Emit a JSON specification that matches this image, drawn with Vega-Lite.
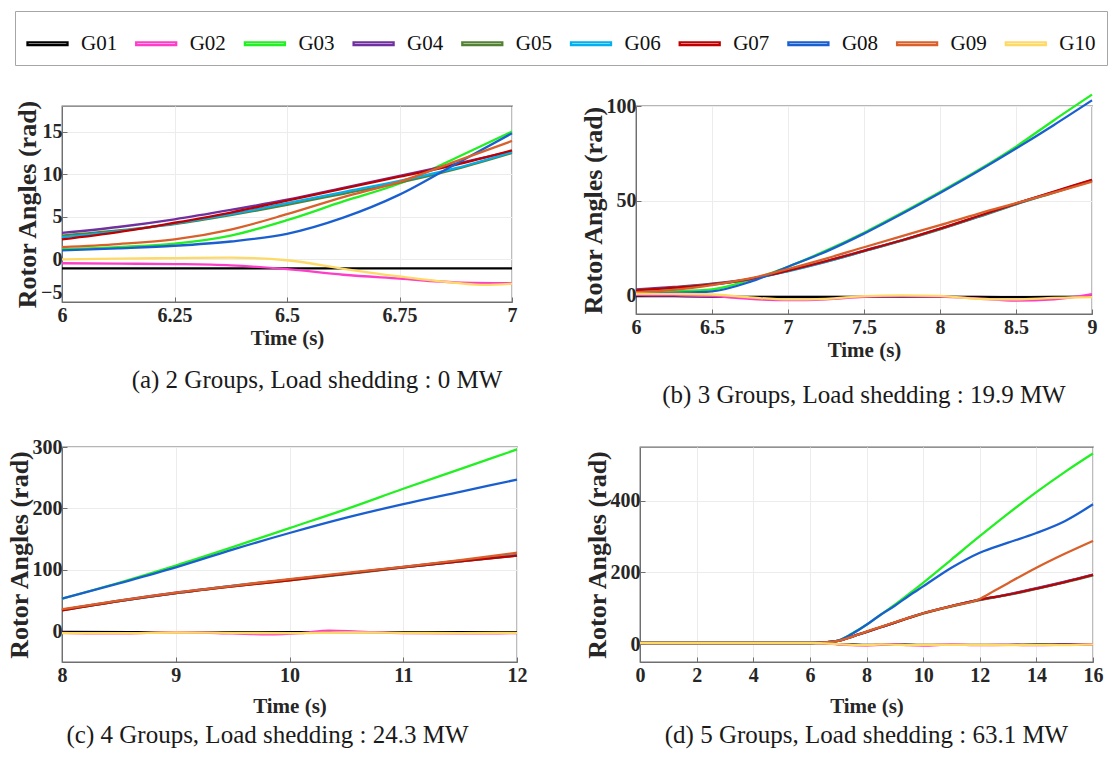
{
  "$schema": "https://vega.github.io/schema/vega-lite/v6.json",
  "padding": {"top": 10, "left": 5, "right": 3, "bottom": 5},
  "background": "white",
  "config": {
    "view": {"stroke": "#6f6f6f", "strokeWidth": 1.3},
    "axis": {
      "labelFont": "Liberation Serif", "labelFontWeight": "bold", "labelFontSize": 20, "labelColor": "#262626",
      "titleFont": "Liberation Serif", "titleFontWeight": "bold", "titleFontSize": 26, "titleColor": "#262626",
      "domainColor": "#6f6f6f", "tickColor": "#6f6f6f", "gridColor": "#ececec", "gridWidth": 1,
      "tickSize": -5, "labelPadding": 5, "labelFlush": false
    },
    "axisX": {"labelPadding": 8},
    "legend": {"labelFont": "Liberation Serif"},
    "title": {"font": "Liberation Serif", "fontSize": 25, "fontWeight": "normal", "color": "#1a1a1a", "orient": "bottom", "anchor": "middle", "offset": 10},
    "line": {"strokeWidth": 2.3, "interpolate": "monotone", "clip": true}
  },
  "datasets": {
    "a": [
      {"t":6,"v":-1.05,"g":"G01"},{"t":6.25,"v":-1.05,"g":"G01"},{"t":6.5,"v":-1.05,"g":"G01"},{"t":6.75,"v":-1.05,"g":"G01"},{"t":7,"v":-1.05,"g":"G01"},
      {"t":6,"v":-0.45,"g":"G02"},{"t":6.125,"v":-0.5,"g":"G02"},{"t":6.25,"v":-0.55,"g":"G02"},{"t":6.375,"v":-0.7,"g":"G02"},{"t":6.5,"v":-1.15,"g":"G02"},{"t":6.625,"v":-1.8,"g":"G02"},{"t":6.75,"v":-2.25,"g":"G02"},{"t":6.875,"v":-2.7,"g":"G02"},{"t":7,"v":-2.8,"g":"G02"},
      {"t":6,"v":1.2,"g":"G03"},{"t":6.125,"v":1.45,"g":"G03"},{"t":6.25,"v":1.85,"g":"G03"},{"t":6.375,"v":2.8,"g":"G03"},{"t":6.5,"v":4.6,"g":"G03"},{"t":6.625,"v":6.8,"g":"G03"},{"t":6.75,"v":8.9,"g":"G03"},{"t":6.875,"v":11.9,"g":"G03"},{"t":7,"v":15.0,"g":"G03"},
      {"t":6,"v":3.1,"g":"G04"},{"t":6.125,"v":3.8,"g":"G04"},{"t":6.25,"v":4.7,"g":"G04"},{"t":6.375,"v":5.8,"g":"G04"},{"t":6.5,"v":7.0,"g":"G04"},{"t":6.625,"v":8.4,"g":"G04"},{"t":6.75,"v":9.8,"g":"G04"},{"t":6.875,"v":11.2,"g":"G04"},{"t":7,"v":12.7,"g":"G04"},
      {"t":6,"v":2.8,"g":"G05"},{"t":6.125,"v":3.4,"g":"G05"},{"t":6.25,"v":4.15,"g":"G05"},{"t":6.375,"v":5.2,"g":"G05"},{"t":6.5,"v":6.4,"g":"G05"},{"t":6.625,"v":7.7,"g":"G05"},{"t":6.75,"v":9.0,"g":"G05"},{"t":6.875,"v":10.6,"g":"G05"},{"t":7,"v":12.5,"g":"G05"},
      {"t":6,"v":2.6,"g":"G06"},{"t":6.125,"v":3.3,"g":"G06"},{"t":6.25,"v":4.2,"g":"G06"},{"t":6.375,"v":5.3,"g":"G06"},{"t":6.5,"v":6.6,"g":"G06"},{"t":6.625,"v":7.9,"g":"G06"},{"t":6.75,"v":9.2,"g":"G06"},{"t":6.875,"v":10.7,"g":"G06"},{"t":7,"v":12.6,"g":"G06"},
      {"t":6,"v":2.35,"g":"G07"},{"t":6.125,"v":3.2,"g":"G07"},{"t":6.25,"v":4.3,"g":"G07"},{"t":6.375,"v":5.5,"g":"G07"},{"t":6.5,"v":6.9,"g":"G07"},{"t":6.625,"v":8.3,"g":"G07"},{"t":6.75,"v":9.7,"g":"G07"},{"t":6.875,"v":11.1,"g":"G07"},{"t":7,"v":12.8,"g":"G07"},
      {"t":6,"v":1.05,"g":"G08"},{"t":6.125,"v":1.3,"g":"G08"},{"t":6.25,"v":1.6,"g":"G08"},{"t":6.375,"v":2.1,"g":"G08"},{"t":6.5,"v":3.0,"g":"G08"},{"t":6.625,"v":4.9,"g":"G08"},{"t":6.75,"v":7.6,"g":"G08"},{"t":6.875,"v":11.2,"g":"G08"},{"t":7,"v":14.8,"g":"G08"},
      {"t":6,"v":1.45,"g":"G09"},{"t":6.125,"v":1.8,"g":"G09"},{"t":6.25,"v":2.35,"g":"G09"},{"t":6.375,"v":3.5,"g":"G09"},{"t":6.5,"v":5.3,"g":"G09"},{"t":6.625,"v":7.3,"g":"G09"},{"t":6.75,"v":9.1,"g":"G09"},{"t":6.875,"v":11.5,"g":"G09"},{"t":7,"v":13.9,"g":"G09"},
      {"t":6,"v":0.0,"g":"G10"},{"t":6.125,"v":0.1,"g":"G10"},{"t":6.25,"v":0.15,"g":"G10"},{"t":6.375,"v":0.2,"g":"G10"},{"t":6.5,"v":-0.1,"g":"G10"},{"t":6.625,"v":-1.1,"g":"G10"},{"t":6.75,"v":-2.0,"g":"G10"},{"t":6.875,"v":-2.75,"g":"G10"},{"t":6.94,"v":-3.0,"g":"G10"},{"t":7,"v":-2.85,"g":"G10"}
    ],
    "b": [
      {"t":6,"v":-0.5,"g":"G01"},{"t":6.25,"v":-0.6,"g":"G01"},{"t":6.5,"v":-0.8,"g":"G01"},{"t":6.75,"v":-1.0,"g":"G01"},{"t":7,"v":-1.0,"g":"G01"},{"t":7.25,"v":-1.0,"g":"G01"},{"t":7.5,"v":-0.9,"g":"G01"},{"t":7.75,"v":-0.8,"g":"G01"},{"t":8,"v":-0.8,"g":"G01"},{"t":8.25,"v":-1.0,"g":"G01"},{"t":8.5,"v":-1.1,"g":"G01"},{"t":8.75,"v":-1.0,"g":"G01"},{"t":9,"v":-0.8,"g":"G01"},
      {"t":6,"v":0.0,"g":"G02"},{"t":6.25,"v":-0.2,"g":"G02"},{"t":6.5,"v":-0.5,"g":"G02"},{"t":6.75,"v":-2.0,"g":"G02"},{"t":7,"v":-2.7,"g":"G02"},{"t":7.25,"v":-2.2,"g":"G02"},{"t":7.5,"v":-0.9,"g":"G02"},{"t":7.75,"v":-0.5,"g":"G02"},{"t":8,"v":-0.8,"g":"G02"},{"t":8.25,"v":-1.8,"g":"G02"},{"t":8.5,"v":-2.9,"g":"G02"},{"t":8.75,"v":-2.2,"g":"G02"},{"t":9,"v":0.5,"g":"G02"},
      {"t":6,"v":1.6,"g":"G03"},{"t":6.25,"v":2.0,"g":"G03"},{"t":6.5,"v":3.0,"g":"G03"},{"t":6.75,"v":8.0,"g":"G03"},{"t":7,"v":15.0,"g":"G03"},{"t":7.25,"v":23.5,"g":"G03"},{"t":7.5,"v":33.0,"g":"G03"},{"t":7.75,"v":43.5,"g":"G03"},{"t":8,"v":54.5,"g":"G03"},{"t":8.25,"v":66.0,"g":"G03"},{"t":8.5,"v":78.5,"g":"G03"},{"t":8.75,"v":92.5,"g":"G03"},{"t":9,"v":106.0,"g":"G03"},
      {"t":6,"v":3.0,"g":"G04"},{"t":6.25,"v":4.3,"g":"G04"},{"t":6.5,"v":6.0,"g":"G04"},{"t":6.75,"v":8.6,"g":"G04"},{"t":7,"v":13.0,"g":"G04"},{"t":7.25,"v":18.0,"g":"G04"},{"t":7.5,"v":23.5,"g":"G04"},{"t":7.75,"v":29.0,"g":"G04"},{"t":8,"v":35.0,"g":"G04"},{"t":8.25,"v":41.5,"g":"G04"},{"t":8.5,"v":48.3,"g":"G04"},{"t":8.75,"v":54.5,"g":"G04"},{"t":9,"v":60.8,"g":"G04"},
      {"t":6,"v":2.6,"g":"G05"},{"t":6.25,"v":4.0,"g":"G05"},{"t":6.5,"v":5.8,"g":"G05"},{"t":6.75,"v":8.5,"g":"G05"},{"t":7,"v":12.8,"g":"G05"},{"t":7.25,"v":17.7,"g":"G05"},{"t":7.5,"v":23.2,"g":"G05"},{"t":7.75,"v":28.8,"g":"G05"},{"t":8,"v":34.8,"g":"G05"},{"t":8.25,"v":41.3,"g":"G05"},{"t":8.5,"v":48.0,"g":"G05"},{"t":8.75,"v":54.2,"g":"G05"},{"t":9,"v":60.4,"g":"G05"},
      {"t":6,"v":2.2,"g":"G06"},{"t":6.25,"v":3.6,"g":"G06"},{"t":6.5,"v":5.5,"g":"G06"},{"t":6.75,"v":8.3,"g":"G06"},{"t":7,"v":12.6,"g":"G06"},{"t":7.25,"v":17.6,"g":"G06"},{"t":7.5,"v":23.2,"g":"G06"},{"t":7.75,"v":28.9,"g":"G06"},{"t":8,"v":35.0,"g":"G06"},{"t":8.25,"v":41.5,"g":"G06"},{"t":8.5,"v":48.2,"g":"G06"},{"t":8.75,"v":54.4,"g":"G06"},{"t":9,"v":60.6,"g":"G06"},
      {"t":6,"v":2.5,"g":"G07"},{"t":6.25,"v":3.9,"g":"G07"},{"t":6.5,"v":5.7,"g":"G07"},{"t":6.75,"v":8.5,"g":"G07"},{"t":7,"v":12.9,"g":"G07"},{"t":7.25,"v":17.9,"g":"G07"},{"t":7.5,"v":23.4,"g":"G07"},{"t":7.75,"v":29.0,"g":"G07"},{"t":8,"v":35.1,"g":"G07"},{"t":8.25,"v":41.7,"g":"G07"},{"t":8.5,"v":48.4,"g":"G07"},{"t":8.75,"v":54.7,"g":"G07"},{"t":9,"v":61.0,"g":"G07"},
      {"t":6,"v":0.9,"g":"G08"},{"t":6.25,"v":1.2,"g":"G08"},{"t":6.5,"v":2.0,"g":"G08"},{"t":6.75,"v":7.0,"g":"G08"},{"t":7,"v":15.0,"g":"G08"},{"t":7.25,"v":23.0,"g":"G08"},{"t":7.5,"v":32.5,"g":"G08"},{"t":7.75,"v":43.0,"g":"G08"},{"t":8,"v":54.0,"g":"G08"},{"t":8.25,"v":65.5,"g":"G08"},{"t":8.5,"v":77.5,"g":"G08"},{"t":8.75,"v":90.0,"g":"G08"},{"t":9,"v":103.0,"g":"G08"},
      {"t":6,"v":1.5,"g":"G09"},{"t":6.25,"v":2.8,"g":"G09"},{"t":6.5,"v":5.3,"g":"G09"},{"t":6.75,"v":8.8,"g":"G09"},{"t":7,"v":13.8,"g":"G09"},{"t":7.25,"v":19.3,"g":"G09"},{"t":7.5,"v":25.3,"g":"G09"},{"t":7.75,"v":31.2,"g":"G09"},{"t":8,"v":37.0,"g":"G09"},{"t":8.25,"v":43.0,"g":"G09"},{"t":8.5,"v":48.6,"g":"G09"},{"t":8.75,"v":54.2,"g":"G09"},{"t":9,"v":60.0,"g":"G09"},
      {"t":6,"v":0.7,"g":"G10"},{"t":6.25,"v":0.6,"g":"G10"},{"t":6.5,"v":0.3,"g":"G10"},{"t":6.75,"v":-1.2,"g":"G10"},{"t":7,"v":-2.3,"g":"G10"},{"t":7.25,"v":-2.0,"g":"G10"},{"t":7.5,"v":-0.5,"g":"G10"},{"t":7.75,"v":-0.1,"g":"G10"},{"t":8,"v":-0.4,"g":"G10"},{"t":8.25,"v":-2.0,"g":"G10"},{"t":8.5,"v":-2.3,"g":"G10"},{"t":8.75,"v":-1.5,"g":"G10"},{"t":9,"v":-1.1,"g":"G10"}
    ],
    "c": [
      {"t":8,"v":-1,"g":"G01"},{"t":9,"v":-1.5,"g":"G01"},{"t":10,"v":-1.5,"g":"G01"},{"t":11,"v":-1.5,"g":"G01"},{"t":12,"v":-1.5,"g":"G01"},
      {"t":8,"v":-2.5,"g":"G02"},{"t":8.5,"v":-3.5,"g":"G02"},{"t":9,"v":-1.5,"g":"G02"},{"t":9.5,"v":-3.5,"g":"G02"},{"t":9.8,"v":-5,"g":"G02"},{"t":10.1,"v":-3,"g":"G02"},{"t":10.35,"v":1,"g":"G02"},{"t":10.6,"v":-0.5,"g":"G02"},{"t":11,"v":-3,"g":"G02"},{"t":11.5,"v":-3.5,"g":"G02"},{"t":12,"v":-3,"g":"G02"},
      {"t":8,"v":53,"g":"G03"},{"t":8.5,"v":79,"g":"G03"},{"t":9,"v":107,"g":"G03"},{"t":9.5,"v":137,"g":"G03"},{"t":10,"v":168,"g":"G03"},{"t":10.5,"v":199,"g":"G03"},{"t":11,"v":232,"g":"G03"},{"t":11.5,"v":264,"g":"G03"},{"t":12,"v":296,"g":"G03"},
      {"t":8,"v":35,"g":"G04"},{"t":8.5,"v":50,"g":"G04"},{"t":9,"v":63,"g":"G04"},{"t":9.5,"v":74,"g":"G04"},{"t":10,"v":84,"g":"G04"},{"t":10.5,"v":94,"g":"G04"},{"t":11,"v":105,"g":"G04"},{"t":11.5,"v":115,"g":"G04"},{"t":12,"v":124,"g":"G04"},
      {"t":8,"v":34,"g":"G05"},{"t":8.5,"v":49,"g":"G05"},{"t":9,"v":62,"g":"G05"},{"t":9.5,"v":73,"g":"G05"},{"t":10,"v":83,"g":"G05"},{"t":10.5,"v":93,"g":"G05"},{"t":11,"v":104,"g":"G05"},{"t":11.5,"v":114,"g":"G05"},{"t":12,"v":123,"g":"G05"},
      {"t":8,"v":35,"g":"G06"},{"t":8.5,"v":49,"g":"G06"},{"t":9,"v":62,"g":"G06"},{"t":9.5,"v":74,"g":"G06"},{"t":10,"v":84,"g":"G06"},{"t":10.5,"v":94,"g":"G06"},{"t":11,"v":104,"g":"G06"},{"t":11.5,"v":114,"g":"G06"},{"t":12,"v":124,"g":"G06"},
      {"t":8,"v":34,"g":"G07"},{"t":8.5,"v":49,"g":"G07"},{"t":9,"v":62,"g":"G07"},{"t":9.5,"v":73,"g":"G07"},{"t":10,"v":83,"g":"G07"},{"t":10.5,"v":94,"g":"G07"},{"t":11,"v":104,"g":"G07"},{"t":11.5,"v":114,"g":"G07"},{"t":12,"v":123,"g":"G07"},
      {"t":8,"v":53,"g":"G08"},{"t":8.5,"v":78,"g":"G08"},{"t":9,"v":104,"g":"G08"},{"t":9.5,"v":133,"g":"G08"},{"t":10,"v":160,"g":"G08"},{"t":10.5,"v":185,"g":"G08"},{"t":11,"v":207,"g":"G08"},{"t":11.5,"v":227,"g":"G08"},{"t":12,"v":247,"g":"G08"},
      {"t":8,"v":36,"g":"G09"},{"t":8.5,"v":50,"g":"G09"},{"t":9,"v":63,"g":"G09"},{"t":9.5,"v":74,"g":"G09"},{"t":10,"v":85,"g":"G09"},{"t":10.5,"v":95,"g":"G09"},{"t":11,"v":105,"g":"G09"},{"t":11.5,"v":116,"g":"G09"},{"t":12,"v":128,"g":"G09"},
      {"t":8,"v":-3,"g":"G10"},{"t":8.5,"v":-3,"g":"G10"},{"t":9,"v":-2,"g":"G10"},{"t":9.5,"v":-2.5,"g":"G10"},{"t":10,"v":-3,"g":"G10"},{"t":10.5,"v":-2,"g":"G10"},{"t":11,"v":-2.5,"g":"G10"},{"t":11.5,"v":-3,"g":"G10"},{"t":12,"v":-2.5,"g":"G10"}
    ],
    "d": [
      {"t":0,"v":3,"g":"G01"},{"t":6,"v":3,"g":"G01"},{"t":6.5,"v":2,"g":"G01"},{"t":7,"v":0,"g":"G01"},{"t":7.5,"v":-1,"g":"G01"},{"t":8,"v":-2,"g":"G01"},{"t":9,"v":-1,"g":"G01"},{"t":10,"v":-2,"g":"G01"},{"t":11,"v":-2,"g":"G01"},{"t":12,"v":-2,"g":"G01"},{"t":13,"v":-2,"g":"G01"},{"t":14,"v":-1,"g":"G01"},{"t":15,"v":-1,"g":"G01"},{"t":16,"v":0,"g":"G01"},
      {"t":0,"v":3,"g":"G02"},{"t":6,"v":3,"g":"G02"},{"t":6.5,"v":2,"g":"G02"},{"t":7,"v":-1,"g":"G02"},{"t":7.5,"v":-3,"g":"G02"},{"t":8,"v":-4,"g":"G02"},{"t":8.5,"v":-2,"g":"G02"},{"t":9,"v":-1,"g":"G02"},{"t":9.5,"v":-3,"g":"G02"},{"t":10,"v":-4,"g":"G02"},{"t":11,"v":-1,"g":"G02"},{"t":12,"v":-3,"g":"G02"},{"t":13,"v":-2,"g":"G02"},{"t":14,"v":-3,"g":"G02"},{"t":15,"v":-2,"g":"G02"},{"t":16,"v":-1,"g":"G02"},
      {"t":0,"v":3,"g":"G03"},{"t":6,"v":3,"g":"G03"},{"t":6.5,"v":5,"g":"G03"},{"t":7,"v":10,"g":"G03"},{"t":7.5,"v":30,"g":"G03"},{"t":8,"v":54,"g":"G03"},{"t":8.5,"v":82,"g":"G03"},{"t":9,"v":110,"g":"G03"},{"t":9.5,"v":140,"g":"G03"},{"t":10,"v":171,"g":"G03"},{"t":11,"v":236,"g":"G03"},{"t":12,"v":301,"g":"G03"},{"t":13,"v":364,"g":"G03"},{"t":14,"v":424,"g":"G03"},{"t":15,"v":480,"g":"G03"},{"t":16,"v":532,"g":"G03"},
      {"t":0,"v":3,"g":"G04"},{"t":6,"v":3,"g":"G04"},{"t":6.5,"v":5,"g":"G04"},{"t":7,"v":9,"g":"G04"},{"t":7.5,"v":21,"g":"G04"},{"t":8,"v":34,"g":"G04"},{"t":8.5,"v":47,"g":"G04"},{"t":9,"v":60,"g":"G04"},{"t":9.5,"v":74,"g":"G04"},{"t":10,"v":86,"g":"G04"},{"t":11,"v":106,"g":"G04"},{"t":12,"v":124,"g":"G04"},{"t":12.5,"v":131,"g":"G04"},{"t":13,"v":139,"g":"G04"},{"t":14,"v":156,"g":"G04"},{"t":15,"v":174,"g":"G04"},{"t":16,"v":194,"g":"G04"},
      {"t":0,"v":3,"g":"G05"},{"t":6,"v":3,"g":"G05"},{"t":6.5,"v":5,"g":"G05"},{"t":7,"v":9,"g":"G05"},{"t":7.5,"v":21,"g":"G05"},{"t":8,"v":34,"g":"G05"},{"t":8.5,"v":47,"g":"G05"},{"t":9,"v":60,"g":"G05"},{"t":9.5,"v":73,"g":"G05"},{"t":10,"v":85,"g":"G05"},{"t":11,"v":105,"g":"G05"},{"t":12,"v":123,"g":"G05"},{"t":12.5,"v":130,"g":"G05"},{"t":13,"v":137,"g":"G05"},{"t":14,"v":154,"g":"G05"},{"t":15,"v":172,"g":"G05"},{"t":16,"v":192,"g":"G05"},
      {"t":0,"v":3,"g":"G06"},{"t":6,"v":3,"g":"G06"},{"t":6.5,"v":5,"g":"G06"},{"t":7,"v":9,"g":"G06"},{"t":7.5,"v":21,"g":"G06"},{"t":8,"v":34,"g":"G06"},{"t":8.5,"v":47,"g":"G06"},{"t":9,"v":60,"g":"G06"},{"t":9.5,"v":74,"g":"G06"},{"t":10,"v":86,"g":"G06"},{"t":11,"v":106,"g":"G06"},{"t":12,"v":124,"g":"G06"},{"t":12.5,"v":131,"g":"G06"},{"t":13,"v":138,"g":"G06"},{"t":14,"v":155,"g":"G06"},{"t":15,"v":173,"g":"G06"},{"t":16,"v":193,"g":"G06"},
      {"t":0,"v":3,"g":"G07"},{"t":6,"v":3,"g":"G07"},{"t":6.5,"v":5,"g":"G07"},{"t":7,"v":9,"g":"G07"},{"t":7.5,"v":21,"g":"G07"},{"t":8,"v":34,"g":"G07"},{"t":8.5,"v":47,"g":"G07"},{"t":9,"v":60,"g":"G07"},{"t":9.5,"v":73,"g":"G07"},{"t":10,"v":86,"g":"G07"},{"t":11,"v":106,"g":"G07"},{"t":12,"v":124,"g":"G07"},{"t":12.5,"v":131,"g":"G07"},{"t":13,"v":138,"g":"G07"},{"t":14,"v":155,"g":"G07"},{"t":15,"v":173,"g":"G07"},{"t":16,"v":193,"g":"G07"},
      {"t":0,"v":3,"g":"G08"},{"t":6,"v":3,"g":"G08"},{"t":6.5,"v":5,"g":"G08"},{"t":7,"v":10,"g":"G08"},{"t":7.5,"v":29,"g":"G08"},{"t":8,"v":54,"g":"G08"},{"t":8.5,"v":82,"g":"G08"},{"t":9,"v":107,"g":"G08"},{"t":9.5,"v":135,"g":"G08"},{"t":10,"v":161,"g":"G08"},{"t":11,"v":213,"g":"G08"},{"t":12,"v":255,"g":"G08"},{"t":13,"v":283,"g":"G08"},{"t":14,"v":310,"g":"G08"},{"t":15,"v":343,"g":"G08"},{"t":16,"v":390,"g":"G08"},
      {"t":0,"v":3,"g":"G09"},{"t":6,"v":3,"g":"G09"},{"t":6.5,"v":5,"g":"G09"},{"t":7,"v":9,"g":"G09"},{"t":7.5,"v":21,"g":"G09"},{"t":8,"v":35,"g":"G09"},{"t":8.5,"v":48,"g":"G09"},{"t":9,"v":61,"g":"G09"},{"t":9.5,"v":74,"g":"G09"},{"t":10,"v":86,"g":"G09"},{"t":11,"v":106,"g":"G09"},{"t":12,"v":126,"g":"G09"},{"t":12.5,"v":148,"g":"G09"},{"t":13,"v":170,"g":"G09"},{"t":14,"v":213,"g":"G09"},{"t":15,"v":252,"g":"G09"},{"t":16,"v":288,"g":"G09"},
      {"t":0,"v":3,"g":"G10"},{"t":6,"v":3,"g":"G10"},{"t":6.5,"v":2,"g":"G10"},{"t":7,"v":0,"g":"G10"},{"t":7.5,"v":-2,"g":"G10"},{"t":8,"v":-3,"g":"G10"},{"t":8.5,"v":-1,"g":"G10"},{"t":9,"v":-2,"g":"G10"},{"t":9.5,"v":-3,"g":"G10"},{"t":10,"v":-2,"g":"G10"},{"t":11,"v":-2,"g":"G10"},{"t":12,"v":-2,"g":"G10"},{"t":13,"v":-3,"g":"G10"},{"t":14,"v":-2,"g":"G10"},{"t":15,"v":-3,"g":"G10"},{"t":16,"v":-1,"g":"G10"}
    ]
  },
  "vconcat": [
    {
      "hconcat": [
        {
          "width": 450, "height": 196,
          "data": {"name": "a"},
          "title": {"text": "(a) 2 Groups, Load shedding : 0 MW", "offset": 20, "dx": 30},
          "mark": {"type": "line"},
          "encoding": {
            "x": {"field": "t", "type": "quantitative", "scale": {"domain": [6, 7], "nice": false}, "axis": {"title": "Time (s)", "values": [6, 6.25, 6.5, 6.75, 7], "format": ".3~g", "titleFontSize": 21, "titlePadding": 2}},
            "y": {"field": "v", "type": "quantitative", "scale": {"domain": [-5, 18], "nice": false, "zero": false}, "axis": {"title": "Rotor Angles (rad)", "values": [-5, 0, 5, 10, 15], "format": ".3~g", "titlePadding": 0, "labelFlush": true}},
            "color": {"field": "g", "type": "nominal",
              "scale": {"domain": ["G01","G02","G03","G04","G05","G06","G07","G08","G09","G10"], "range": ["#000000","#ff3ec8","#22f022","#7030a0","#548235","#00b0f0","#c00000","#1a5fd0","#d9602a","#ffd966"]},
              "legend": {"orient": "none", "legendX": -47, "legendY": -95, "direction": "horizontal", "title": null, "symbolType": "M-1,-0.07H1V0.07H-1Z", "symbolSize": 1600, "labelFont": "Liberation Serif", "labelFontSize": 21, "labelColor": "#111", "labelOffset": 12, "columnPadding": 12.7, "padding": 11, "strokeColor": "#a6a6a6", "fillColor": "white"}}
          }
        },
        {
          "width": 456, "height": 208,
          "data": {"name": "b"},
          "title": {"text": "(b) 3 Groups, Load shedding : 19.9 MW", "offset": 23},
          "mark": {"type": "line"},
          "encoding": {
            "x": {"field": "t", "type": "quantitative", "scale": {"domain": [6, 9], "nice": false}, "axis": {"title": "Time (s)", "values": [6, 6.5, 7, 7.5, 8, 8.5, 9], "format": ".3~g", "titleFontSize": 21, "titlePadding": 2}},
            "y": {"field": "v", "type": "quantitative", "scale": {"domain": [-10, 100], "nice": false, "zero": false}, "axis": {"title": "Rotor Angles (rad)", "values": [0, 50, 100], "format": ".3~g", "titlePadding": 0}},
            "color": {"field": "g", "type": "nominal"}
          }
        }
      ],
      "spacing": 61
    },
    {
      "hconcat": [
        {
          "width": 455, "height": 215,
          "data": {"name": "c"},
          "title": {"text": "(c) 4 Groups, Load shedding : 24.3 MW", "dx": -22, "offset": 7},
          "mark": {"type": "line"},
          "encoding": {
            "x": {"field": "t", "type": "quantitative", "scale": {"domain": [8, 12], "nice": false}, "axis": {"title": "Time (s)", "values": [8, 9, 10, 11, 12], "format": ".3~g", "titleFontSize": 21, "titlePadding": 10}},
            "y": {"field": "v", "type": "quantitative", "scale": {"domain": [-50, 300], "nice": false, "zero": false}, "axis": {"title": "Rotor Angles (rad)", "values": [0, 100, 200, 300], "format": ".3~g", "titlePadding": 0}},
            "color": {"field": "g", "type": "nominal"}
          }
        },
        {
          "width": 453, "height": 215,
          "data": {"name": "d"},
          "title": {"text": "(d) 5 Groups, Load shedding : 63.1 MW", "offset": 7},
          "mark": {"type": "line"},
          "encoding": {
            "x": {"field": "t", "type": "quantitative", "scale": {"domain": [0, 16], "nice": false}, "axis": {"title": "Time (s)", "values": [0, 2, 4, 6, 8, 10, 12, 14, 16], "format": ".3~g", "titleFontSize": 21, "titlePadding": 10}},
            "y": {"field": "v", "type": "quantitative", "scale": {"domain": [-50, 550], "nice": false, "zero": false}, "axis": {"title": "Rotor Angles (rad)", "values": [0, 200, 400], "format": ".3~g", "titlePadding": 0}},
            "color": {"field": "g", "type": "nominal"}
          }
        }
      ],
      "spacing": 55
    }
  ],
  "spacing": 27
}
